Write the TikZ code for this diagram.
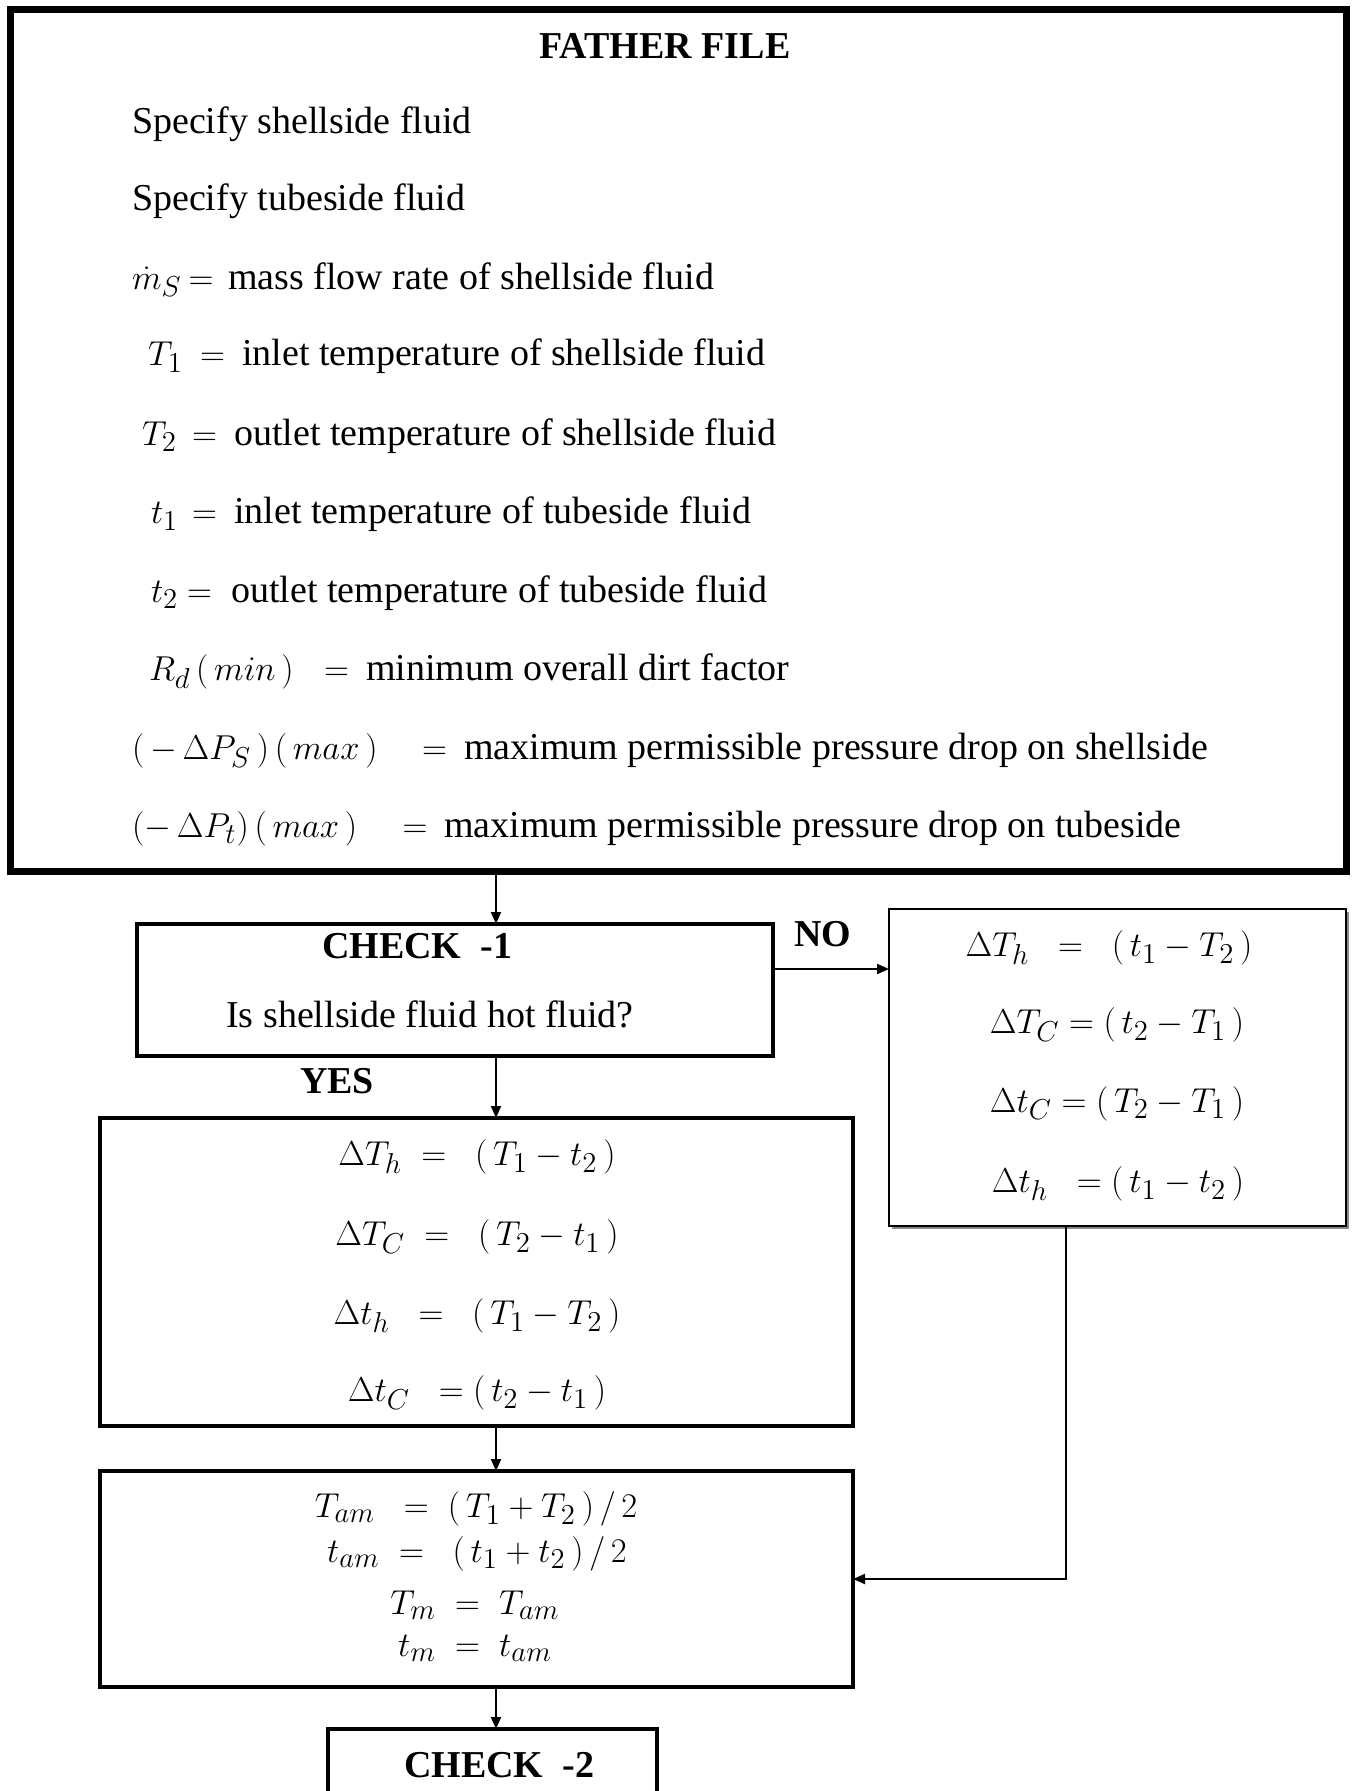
\documentclass[tikz,border=0pt]{standalone}
\usepackage{fontspec}
\setmainfont{Liberation Serif}
\usetikzlibrary{arrows.meta,shadows}
\begin{document}
\begin{tikzpicture}[x=0.5pt,y=-0.5pt,
  every node/.style={font=\fontsize{19}{23}\selectfont, inner sep=0pt, outer sep=0pt},
  txt/.style={anchor=west, text height=13pt, text depth=4.5pt},
  ctr/.style={anchor=center, text height=13pt, text depth=4.5pt},
  hd/.style={anchor=base, font=\fontsize{19}{23}\selectfont\bfseries},
  thickbox/.style={draw, line width=3.5pt},
  midbox/.style={draw, line width=2pt},
  thinbox/.style={draw, line width=1pt, fill=white,
    drop shadow={shadow xshift=1.6pt, shadow yshift=-1.6pt, fill=black!45, opacity=1}},
  arr/.style={line width=1pt, -{Triangle[length=6pt,width=5pt]}}]
\path[use as bounding box] (0,0) rectangle (1352,1791);
\clip (0,0) rectangle (1352,1791);
\fill[white] (0,0) rectangle (1352,1791);

% ---------- boxes ----------
\node[thickbox, minimum width=668pt, minimum height=430.5pt] (father) at (678,440.5) {};
\node[midbox, minimum width=318pt, minimum height=66pt] (check1) at (455,990) {};
\node[thinbox, minimum width=228.5pt, minimum height=158.5pt] (right) at (1117.5,1067.5) {};
\node[midbox, minimum width=376.5pt, minimum height=154pt] (box2) at (476.5,1272) {};
\node[midbox, minimum width=376.5pt, minimum height=108pt] (box3) at (476.5,1579) {};
\node[midbox, minimum width=164.5pt, minimum height=60pt] (check2) at (492,1789) {};

% ---------- father file text ----------
\node[hd] (ff) at (665,59) {FATHER FILE};
\node[txt] (f1) at (132,124.6) {Specify shellside fluid};
\node[txt] (f2) at (132,202) {Specify tubeside fluid};
\node[txt] (f3l) at (132,280.6) {$\dot{m}_S$};
\node[ctr] (f3e) at (201,280.6) {$=$};
\node[txt] (f3r) at (228,280.6) {mass flow rate of shellside fluid};
\node[txt] (f4l) at (148,357.5) {$T_1$};
\node[ctr] (f4e) at (212.5,357.5) {$=$};
\node[txt] (f4r) at (242,357.5) {inlet temperature of shellside fluid};
\node[txt] (f5l) at (142,436.6) {$T_2$};
\node[ctr] (f5e) at (204.5,436.6) {$=$};
\node[txt] (f5r) at (234,436.6) {outlet temperature of shellside fluid};
\node[txt] (f6l) at (151,515) {$t_1$};
\node[ctr] (f6e) at (204.5,515) {$=$};
\node[txt] (f6r) at (234,515) {inlet temperature of tubeside fluid};
\node[txt] (f7l) at (151,593.7) {$t_2$};
\node[ctr] (f7e) at (199.5,593.7) {$=$};
\node[txt] (f7r) at (231,593.7) {outlet temperature of tubeside fluid};
\node[txt] (f8l) at (149,672) {$R_d\,(\,min\,)$};
\node[ctr] (f8e) at (336.5,672) {$=$};
\node[txt] (f8r) at (366,672) {minimum overall dirt factor};
\node[txt] (f9l) at (132,750.8) {$(\,-\,\Delta P_S\,)\,(\,max\,)$};
\node[ctr] (f9e) at (434.5,750.8) {$=$};
\node[txt] (f9r) at (464,750.8) {maximum permissible pressure drop on shellside};
\node[txt] (f10l) at (132,829.4) {$(-\,\Delta P_t)\,(\,max\,)$};
\node[ctr] (f10e) at (415,829.4) {$=$};
\node[txt] (f10r) at (444,829.4) {maximum permissible pressure drop on tubeside};

% ---------- check 1 ----------
\node[hd] (c1a) at (417,958) {CHECK\ \ -1};
\node[ctr] (c1b) at (430,1019) {Is shellside fluid hot fluid?};
\node[hd] (no) at (823,946) {NO};
\node[hd] (yes) at (337,1093) {YES};

% ---------- right box ----------
\node[ctr] (r1) at (1109,948) {$\Delta T_h \;\;=\; \;(\,t_1 - T_2\,)$};
\node[ctr] (r2) at (1117,1025) {$\Delta T_C = (\,t_2 - T_1\,)$};
\node[ctr] (r3) at (1117,1103.5) {$\Delta t_C = (\,T_2 - T_1\,)$};
\node[ctr] (r4) at (1118,1184) {$\Delta t_h \;\;= (\,t_1 - t_2\,)$};

% ---------- box 2 ----------
\node[ctr] (b1) at (477,1157) {$\Delta T_h \;=\; \;(\,T_1 - t_2\,)$};
\node[ctr] (b2) at (477,1237) {$\Delta T_C \;=\; \;(\,T_2 - t_1\,)$};
\node[ctr] (b3) at (477,1316) {$\Delta t_h \;\;=\; \;(\,T_1 - T_2\,)$};
\node[ctr] (b4) at (477,1393) {$\Delta t_C \;\;= (\,t_2 - t_1\,)$};

% ---------- box 3 ----------
\node[ctr] (m1) at (476,1509) {$T_{am} \;\;=\; (\,T_1 + T_2\,)\,/\,2$};
\node[ctr] (m2) at (477,1553.6) {$t_{am} \;=\; \;(\,t_1 + t_2\,)\,/\,2$};
\node[ctr] (m3) at (475,1606) {$T_m \;=\; T_{am}$};
\node[ctr] (m4) at (475,1648) {$t_m \;=\; t_{am}$};

% ---------- check 2 ----------
\node[hd] (c2) at (499,1777) {CHECK\ \ -2};

% ---------- connectors ----------
\coordinate (ax) at (496,0);
\coordinate (ny) at (0,969);
\coordinate (rx) at (1066,0);
\draw[arr] (father.south -| ax) -- (check1.north -| ax);
\draw[arr] (check1.east |- ny) -- (right.west |- ny);
\draw[arr] (check1.south -| ax) -- (box2.north -| ax);
\draw[arr] (box2.south -| ax) -- (box3.north -| ax);
\draw[arr] (box3.south -| ax) -- (check2.north -| ax);
\draw[arr] (right.south -| rx) |- (box3.east);
\end{tikzpicture}
\end{document}
